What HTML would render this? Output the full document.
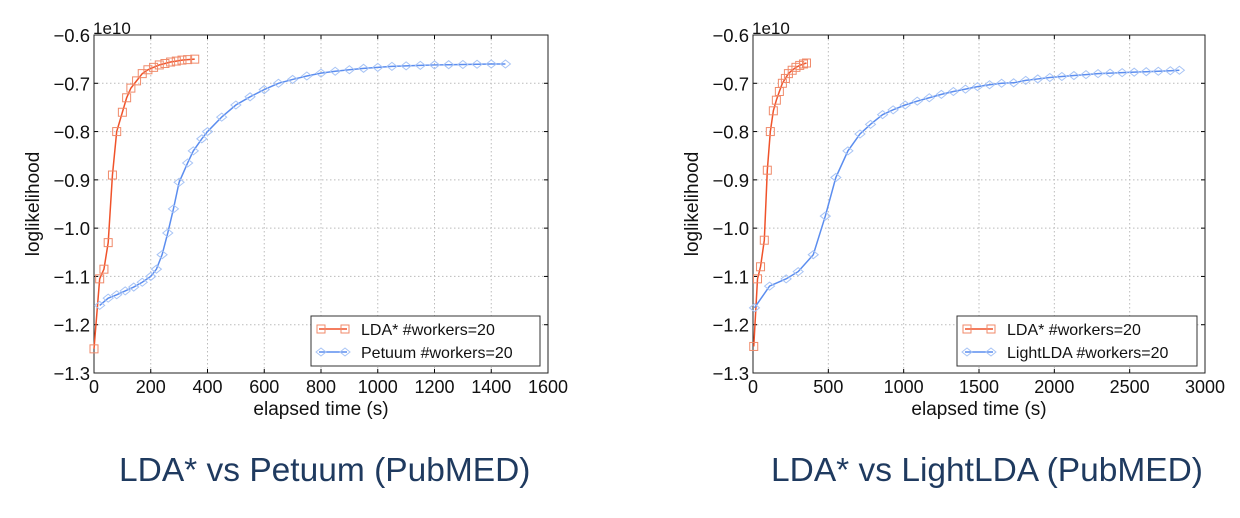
<!DOCTYPE html>
<html><head><meta charset="utf-8"><style>
body{margin:0;background:#fff;width:1240px;height:518px;overflow:hidden;font-family:"Liberation Sans",sans-serif}
svg{position:absolute;left:0;top:0}
.t{position:absolute;font-size:33.5px;color:#1f3a5f;top:452px}
</style></head><body>
<svg id="s" width="1240" height="518"></svg>
<div class="t" style="left:119px">LDA* vs Petuum (PubMED)</div>
<div class="t" style="left:771px">LDA* vs LightLDA (PubMED)</div>
<script>
const leftLdaX=[0,20,35,50,65,80,100,115,130,150,170,190,210,230,250,270,290,310,330,355];
const leftLdaY=[-1.25,-1.105,-1.085,-1.03,-0.89,-0.80,-0.76,-0.73,-0.71,-0.695,-0.68,-0.672,-0.667,-0.662,-0.659,-0.656,-0.654,-0.652,-0.651,-0.65];
const petuumX=[20,50,80,110,140,170,200,220,240,260,280,300,330,350,380,400,450,500,550,600,650,700,750,800,850,900,950,1000,1050,1100,1150,1200,1250,1300,1350,1400,1450];
const petuumY=[-1.16,-1.145,-1.138,-1.13,-1.122,-1.112,-1.10,-1.085,-1.055,-1.01,-0.96,-0.905,-0.865,-0.84,-0.815,-0.80,-0.77,-0.745,-0.728,-0.713,-0.70,-0.692,-0.685,-0.679,-0.675,-0.672,-0.669,-0.667,-0.665,-0.664,-0.663,-0.662,-0.6615,-0.661,-0.6605,-0.66,-0.66];
const rightLdaX=[5,30,50,75,95,115,135,155,175,195,215,235,260,285,310,335,355];
const rightLdaY=[-1.245,-1.105,-1.08,-1.025,-0.88,-0.80,-0.757,-0.735,-0.717,-0.70,-0.69,-0.68,-0.673,-0.667,-0.663,-0.66,-0.658];
const lightX=[10,110,220,300,400,480,550,630,710,780,860,930,1010,1090,1170,1250,1330,1410,1490,1570,1650,1730,1810,1890,1970,2050,2130,2210,2290,2370,2450,2530,2610,2690,2770,2830];
const lightY=[-1.165,-1.12,-1.105,-1.09,-1.055,-0.975,-0.895,-0.84,-0.805,-0.785,-0.765,-0.755,-0.745,-0.737,-0.73,-0.723,-0.717,-0.712,-0.707,-0.703,-0.70,-0.699,-0.694,-0.691,-0.688,-0.686,-0.684,-0.682,-0.68,-0.679,-0.678,-0.677,-0.676,-0.675,-0.674,-0.673];
const leftXTicks=[0,200,400,600,800,1000,1200,1400,1600];
const rightXTicks=[0,500,1000,1500,2000,2500,3000];
const yTicks=[-0.6,-0.7,-0.8,-0.9,-1.0,-1.1,-1.2,-1.3];
const yLabels=["\u22120.6","\u22120.7","\u22120.8","\u22120.9","\u22121.0","\u22121.1","\u22121.2","\u22121.3"];
const NS="http://www.w3.org/2000/svg";
const svg=document.getElementById('s');
function mk(tag,at,parent){const e=document.createElementNS(NS,tag);for(const k in at)e.setAttribute(k,at[k]);(parent||svg).appendChild(e);return e;}
const RED="#f0522a",BLUE="#5b8def",RMK="#f08a6a",BMK="#a8c4f5";
function marker(g,kind,x,y,col){
  if(kind==='sq'){const e=mk('rect',{x:x-4,y:y-4,width:8,height:8,fill:'none',stroke:col,'stroke-width':1},g);}
  else{const e=mk('path',{d:`M${x-5} ${y}L${x} ${y-4}L${x+5} ${y}L${x} ${y+4}Z`,fill:'none',stroke:col,'stroke-width':1},g);}
}
function chart(o){
  const L=o.L,R=o.R,T=35,B=373;
  const sx=v=>L+(v-0)/(o.xmax)*(R-L), sy=v=>T+(-0.6-v)/0.7*(B-T);
  const g=mk('g',{});
  mk('rect',{x:L,y:T,width:R-L,height:B-T,fill:'#fff'},g);
  o.xt.forEach(v=>{const x=sx(v);
    if(v>0&&v<o.xmax)mk('line',{x1:x,x2:x,y1:T,y2:B,stroke:'#bbb','stroke-dasharray':'1.5,2.5'},g);
    mk('line',{x1:x,x2:x,y1:B,y2:B-4,stroke:'#000'},g);mk('line',{x1:x,x2:x,y1:T,y2:T+4,stroke:'#000'},g);
    const t=mk('text',{x:x,y:B+20,'text-anchor':'middle','font-size':18,fill:'#111'},g);t.textContent=v;});
  yTicks.forEach((v,i)=>{const y=sy(v);
    if(i>0&&i<yTicks.length-1)mk('line',{x1:L,x2:R,y1:y,y2:y,stroke:'#bbb','stroke-dasharray':'1.5,2.5'},g);
    mk('line',{x1:L,x2:L+4,y1:y,y2:y,stroke:'#000'},g);mk('line',{x1:R,x2:R-4,y1:y,y2:y,stroke:'#000'},g);
    const t=mk('text',{x:L-4,y:y+7,'text-anchor':'end','font-size':18.5,fill:'#111'},g);t.textContent=yLabels[i];});
  mk('rect',{x:L,y:T,width:R-L,height:B-T,fill:'none',stroke:'#222','stroke-width':1},g);
  const e=mk('text',{x:L-1,y:T-1,'font-size':17,fill:'#111'},g);e.textContent='1e10';
  const xl=mk('text',{x:(L+R)/2,y:B+42,'text-anchor':'middle','font-size':19,fill:'#111'},g);xl.textContent='elapsed time (s)';
  const yl=mk('text',{x:0,y:0,transform:`translate(${L-55},${(T+B)/2}) rotate(-90)`,'text-anchor':'middle','font-size':19,fill:'#111'},g);yl.textContent='loglikelihood';
  o.series.forEach(s=>{
    const p=mk('polyline',{points:s.x.map((v,i)=>sx(v)+','+sy(s.y[i])).join(' '),fill:'none',stroke:s.c,'stroke-width':1.5},g);
    
    s.x.forEach((v,i)=>marker(g,s.m,sx(v),sy(s.y[i]),s.mc));
  });
  const lg=mk('g',{},g);
  mk('rect',{x:o.lx,y:316,width:o.lw,height:50,fill:'#fff',stroke:'#333'},lg);
  o.series.forEach((s,i)=>{const y=329+i*23;
    mk('line',{x1:o.lx+8,x2:o.lx+36,y1:y,y2:y,stroke:s.c,'stroke-width':1.5},lg);
    marker(lg,s.m,o.lx+10,y,s.mc);marker(lg,s.m,o.lx+34,y,s.mc);
    const t=mk('text',{x:o.lx+50,y:y+6,'font-size':16,fill:'#111'},lg);t.textContent=s.label;});
}
chart({name:'left-chart',L:94,R:548,xmax:1600,xt:leftXTicks,lx:311,lw:229,series:[
 {name:'lda-line',x:leftLdaX,y:leftLdaY,c:RED,mc:RMK,m:'sq',label:'LDA* #workers=20'},
 {name:'petuum-line',x:petuumX,y:petuumY,c:BLUE,mc:BMK,m:'di',label:'Petuum #workers=20'}]});
chart({name:'right-chart',L:753,R:1205,xmax:3000,xt:rightXTicks,lx:957,lw:240,series:[
 {name:'lda-line',x:rightLdaX,y:rightLdaY,c:RED,mc:RMK,m:'sq',label:'LDA* #workers=20'},
 {name:'lightlda-line',x:lightX,y:lightY,c:BLUE,mc:BMK,m:'di',label:'LightLDA #workers=20'}]});
</script></body></html>
